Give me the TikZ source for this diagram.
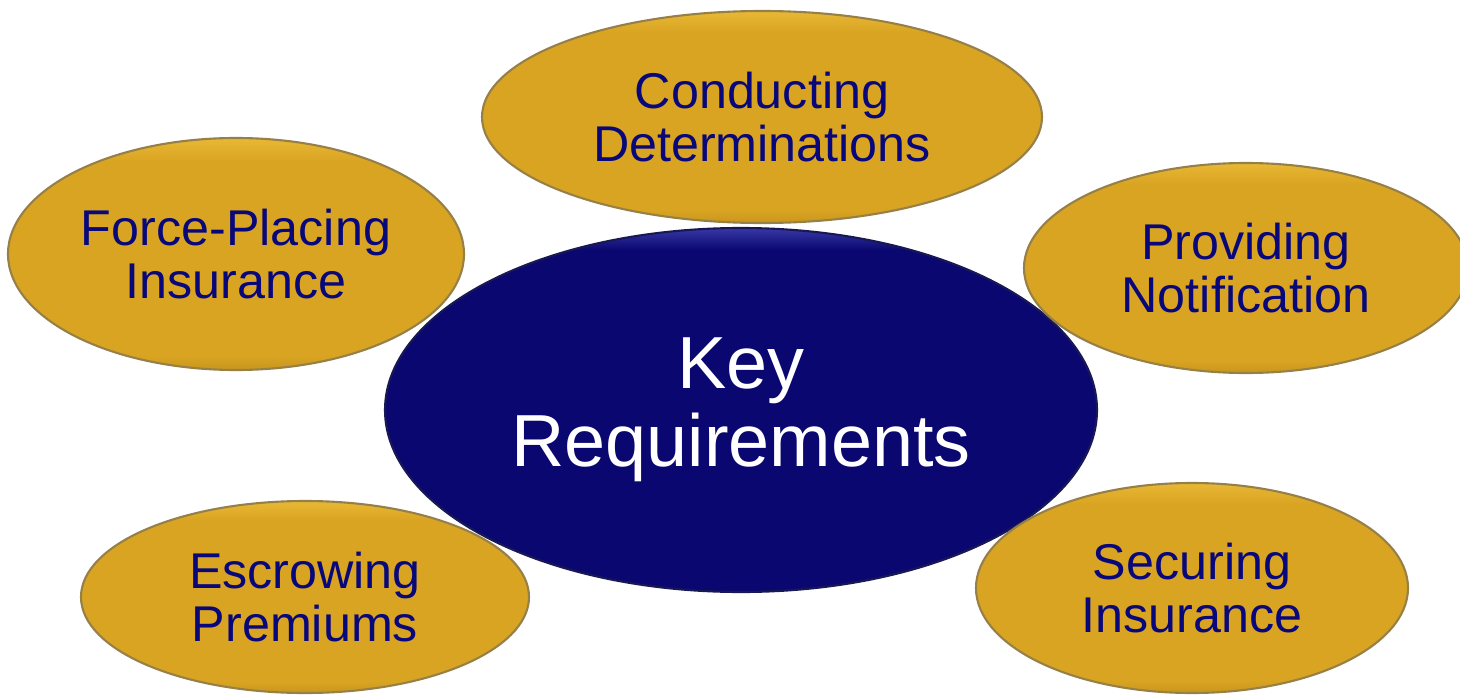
\documentclass[tikz,border=0pt]{standalone}
\usepackage{fontspec}
\setmainfont{Liberation Sans}
\usetikzlibrary{shapes.geometric}

\definecolor{goldmain}{RGB}{217,164,34}
\definecolor{goldtop}{RGB}{232,184,52}
\definecolor{goldrim}{RGB}{200,150,30}
\definecolor{goldline}{RGB}{150,128,72}
\definecolor{navytext}{RGB}{8,8,122}
\definecolor{navymain}{RGB}{10,8,112}
\definecolor{navytop}{RGB}{56,56,166}
\definecolor{navyline}{RGB}{24,24,84}

% bevel-like fills (the path spans 25bp--75bp)
\pgfdeclareverticalshading{goldglow}{100bp}{color(0bp)=(goldrim); color(25bp)=(goldrim); color(28bp)=(goldmain); color(70bp)=(goldmain); color(75bp)=(goldtop); color(100bp)=(goldtop)}
\pgfdeclareverticalshading{navyglow}{100bp}{color(0bp)=(navymain); color(72bp)=(navymain); color(75bp)=(navytop); color(100bp)=(navytop)}

\begin{document}
\begin{tikzpicture}[
		leaf/.style={ellipse, inner sep=0pt, draw=goldline, line width=0.6pt, shading=goldglow,
			text=navytext, align=center, font=\fontsize{14.3}{14.9}\selectfont},
		hub/.style={ellipse, inner sep=0pt, draw=navyline, line width=0.6pt, shading=navyglow,
			text=white, align=center, font=\fontsize{21}{22.2}\selectfont}]
		\useasboundingbox (0,0) rectangle (14.6,6.95);
		\node[hub, minimum width=7.12cm, minimum height=3.64cm] (0) at (7.41,2.85) {Key\\Requirements};
		\node[leaf, minimum width=5.6cm, minimum height=2.12cm] (1) at (7.62,5.78) {Conducting\\Determinations};
		\node[leaf, minimum width=4.56cm, minimum height=2.32cm] (2) at (2.36,4.41) {Force-Placing\\Insurance};
		\node[leaf, minimum width=4.44cm, minimum height=2.1cm] (3) at (12.46,4.27) {Providing\\Notification};
		\node[leaf, minimum width=4.48cm, minimum height=1.92cm] (4) at (3.05,0.98) {Escrowing\\Premiums};
		\node[leaf, minimum width=4.32cm, minimum height=2.1cm] (5) at (11.92,1.07) {Securing\\Insurance};
	\end{tikzpicture}
\end{document}
